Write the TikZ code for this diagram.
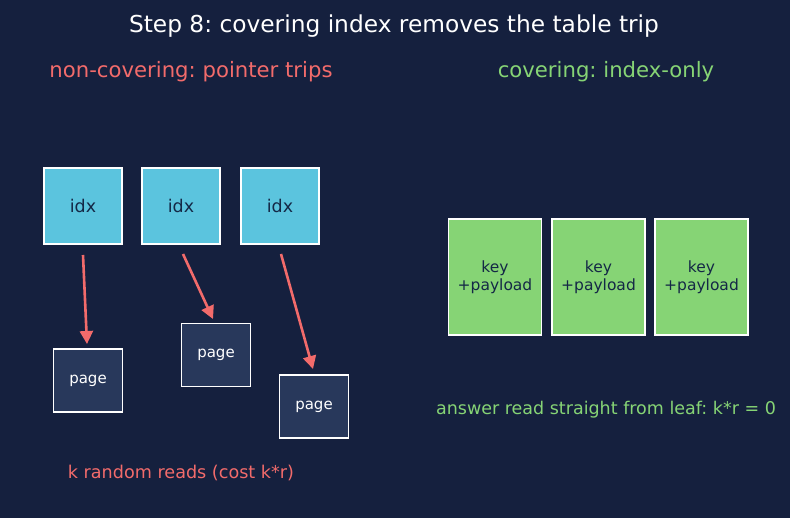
\documentclass[tikz,border=0pt]{standalone}
\usepackage{fontspec}
\setmainfont{DejaVu Sans}
\usetikzlibrary{arrows.meta}
\frenchspacing
\definecolor{bg}{RGB}{21,32,62}
\definecolor{idxc}{RGB}{91,196,222}
\definecolor{pagec}{RGB}{40,56,91}
\definecolor{greenc}{RGB}{134,212,117}
\definecolor{redc}{RGB}{242,107,107}
\definecolor{darktxt}{RGB}{20,40,70}
\begin{document}
\begin{tikzpicture}[x=1pt,y=-1pt,
  idxbox/.style={draw=white,line width=1.6pt,fill=idxc,minimum width=78pt,minimum height=76pt,inner sep=0pt,text=darktxt,font=\fontsize{17.5}{20}\selectfont},
  pagebox/.style={draw=white,line width=1.6pt,fill=pagec,minimum width=69pt,minimum height=63pt,inner sep=0pt,text=white,font=\fontsize{15}{18}\selectfont},
  keybox/.style={draw=white,line width=1.6pt,fill=greenc,minimum width=93pt,minimum height=116pt,inner sep=0pt,text=darktxt,align=center,font=\fontsize{15.5}{18.5}\selectfont},
  trip/.style={draw=redc,line width=2.6pt,-{Triangle[length=13pt,width=13pt]}},
  lbl/.style={inner sep=0pt}]
\fill[bg] (0,0) rectangle (790,518);
\useasboundingbox (0,0) rectangle (790,518);
\node[lbl,text=white,font=\fontsize{23.3}{26}\selectfont] (title) at (394,26) {Step 8: covering index removes the table trip};
\node[lbl,text=redc,font=\fontsize{21.2}{24}\selectfont] (lt) at (191,72) {non-covering: pointer trips};
\node[lbl,text=greenc,font=\fontsize{21.2}{24}\selectfont] (rt) at (606,72) {covering: index-only};
\node[idxbox] (i1) at (83,206) {idx};
\node[idxbox] (i2) at (181,206) {idx};
\node[idxbox] (i3) at (280,206) {idx};
\node[pagebox] (p1) at (88,380.5) {page};
\node[pagebox] (p2) at (216,355) {page};
\node[pagebox] (p3) at (314,406.5) {page};
\draw[trip] (83,255) -- (87,344);
\draw[trip] (183,254) -- (213,319);
\draw[trip] (281,254) -- (313,369);
\node[keybox] (k1) at (495,277) {key\\+payload};
\node[keybox] (k2) at (598.5,277) {key\\+payload};
\node[keybox] (k3) at (701.5,277) {key\\+payload};
\node[lbl,text=redc,font=\fontsize{17.6}{20}\selectfont] (lb) at (181,473) {k random reads (cost k*r)};
\node[lbl,text=greenc,font=\fontsize{17.5}{20}\selectfont] (rb) at (606,410) {answer read straight from leaf: k*r = 0};
\end{tikzpicture}
\end{document}
